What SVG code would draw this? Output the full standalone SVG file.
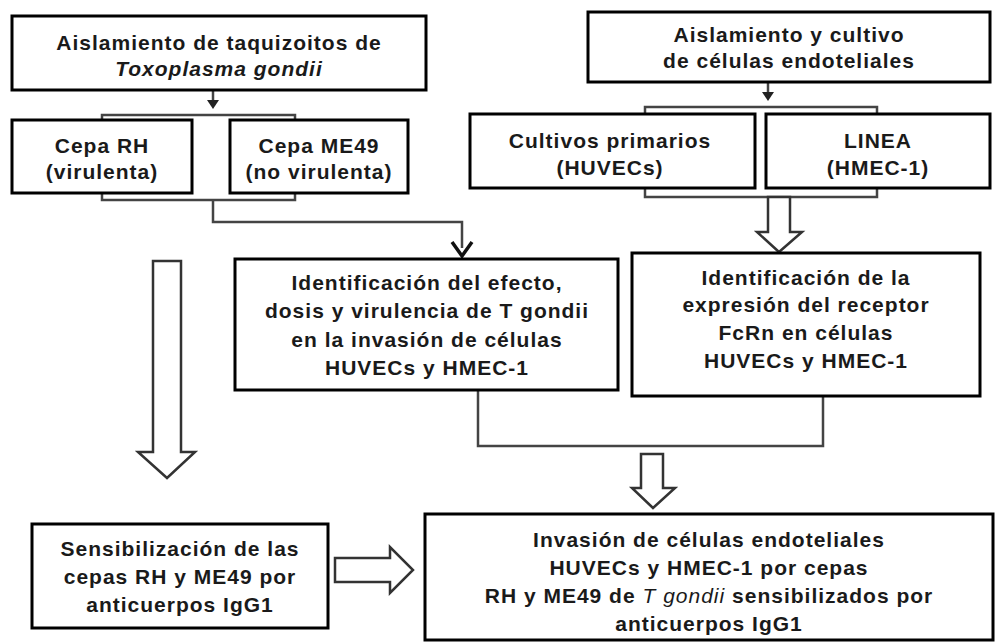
<svg xmlns="http://www.w3.org/2000/svg" width="997" height="642" viewBox="0 0 997 642">
<style>
.box{fill:#fff;stroke:#000;stroke-width:3}
.t{font-family:"Liberation Sans",Arial,sans-serif;font-weight:bold;font-size:21px;fill:#1a1a1a;text-anchor:middle;letter-spacing:1px}
.it{font-style:italic}
.lt{font-style:italic;font-weight:normal}
.ln{fill:none;stroke:#444;stroke-width:2.5}
.hol{fill:#fff;stroke:#333;stroke-width:2.5;stroke-linejoin:miter}
.ah{fill:#222;stroke:none}
</style>
<rect width="997" height="642" fill="#fff"/>
<g id="connectors">
  <!-- left top small arrow and brackets -->
  <line class="ln" x1="213" y1="90" x2="213" y2="102"/>
  <path class="ah" d="M207,100 L219,100 L213,109 Z"/>
  <path class="ln" d="M102,121 V115 H295 V121"/>
  <path class="ln" d="M102,193 V200 H295 V193"/>
  <path class="ln" d="M213,200 V222 H462 V248"/>
  <path d="M452,242 L462,256 L472,242" fill="none" stroke="#111" stroke-width="3.5"/>
  <!-- right top small arrow and brackets -->
  <line class="ln" x1="768" y1="82" x2="768" y2="94"/>
  <path class="ah" d="M762,92 L774,92 L768,101 Z"/>
  <path class="ln" d="M645,114 V107 H877 V114"/>
  <path class="ln" d="M645,188 V197 H877 V188"/>
  <!-- hollow arrow to FcRn box -->
  <path class="hol" d="M768,197 H790 V232 H802 L779,252 L757,232 H768 Z"/>
  <!-- left long hollow arrow -->
  <path class="hol" d="M153,261 H181 V452 H195 L167,478 L138,452 H153 Z"/>
  <!-- bottom bracket from middle boxes -->
  <path class="ln" d="M478,391 V446 H823 V396"/>
  <path class="hol" d="M641,454 H663 V488 H675 L653,508 L632,488 H641 Z"/>
  <!-- hollow right arrow -->
  <path class="hol" d="M335,558 H390 V547 L413,570 L390,593 V582 H335 Z"/>
</g>
<g id="n1">
  <rect class="box" x="12" y="16" width="414" height="74"/>
  <text class="t" x="219" y="50">Aislamiento de taquizoitos  de</text>
  <text class="t it" x="219" y="76">Toxoplasma gondii</text>
</g>
<g id="n2">
  <rect class="box" x="12" y="120" width="180" height="73"/>
  <text class="t" x="102" y="153">Cepa RH</text>
  <text class="t" x="102" y="179">(virulenta)</text>
</g>
<g id="n3">
  <rect class="box" x="230" y="120" width="178" height="73"/>
  <text class="t" x="319" y="153">Cepa ME49</text>
  <text class="t" x="319" y="179">(no virulenta)</text>
</g>
<g id="n4">
  <rect class="box" x="588" y="12" width="402" height="70"/>
  <text class="t" x="789" y="42">Aislamiento y cultivo</text>
  <text class="t" x="789" y="68">de células endoteliales</text>
</g>
<g id="n5">
  <rect class="box" x="470" y="114" width="285" height="74"/>
  <text class="t" x="610" y="148">Cultivos  primarios</text>
  <text class="t" x="610" y="175">(HUVECs)</text>
</g>
<g id="n6">
  <rect class="box" x="766" y="114" width="224" height="74"/>
  <text class="t" x="878" y="148">LINEA</text>
  <text class="t" x="878" y="175">(HMEC-1)</text>
</g>
<g id="n7">
  <rect class="box" x="235" y="259" width="383" height="131"/>
  <text class="t" x="427" y="290">Identificación  del efecto,</text>
  <text class="t" x="427" y="318">dosis  y virulencia de T gondii</text>
  <text class="t" x="427" y="347">en la  invasión de células</text>
  <text class="t" x="427" y="375">HUVECs y HMEC-1</text>
</g>
<g id="n8">
  <rect class="box" x="632" y="253" width="348" height="143"/>
  <text class="t" x="806" y="285">Identificación  de la</text>
  <text class="t" x="806" y="312">expresión del receptor</text>
  <text class="t" x="806" y="340">FcRn en células</text>
  <text class="t" x="806" y="368">HUVECs y HMEC-1</text>
</g>
<g id="n9">
  <rect class="box" x="32" y="524" width="296" height="104"/>
  <text class="t" x="180" y="556">Sensibilización  de las</text>
  <text class="t" x="180" y="584">cepas RH y ME49 por</text>
  <text class="t" x="180" y="612">anticuerpos IgG1</text>
</g>
<g id="n10">
  <rect class="box" x="425" y="514" width="568" height="126"/>
  <text class="t" x="709" y="547">Invasión de células endoteliales</text>
  <text class="t" x="709" y="575">HUVECs y HMEC-1 por cepas</text>
  <text class="t" x="709" y="603">RH y ME49 de <tspan class="lt">T gondii</tspan>  sensibilizados  por</text>
  <text class="t" x="709" y="631">anticuerpos IgG1</text>
</g>
</svg>
